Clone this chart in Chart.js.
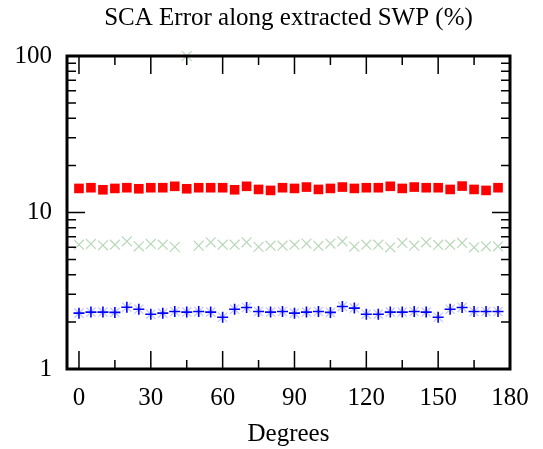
<!DOCTYPE html>
<html>
<head>
<meta charset="utf-8">
<script src="https://cdn.jsdelivr.net/npm/chart.js@4/dist/chart.umd.min.js"></script>
<style>
html,body{margin:0;padding:0;background:#fff;}
#wrap{width:543px;height:449px;}
</style>
</head>
<body>
<div id="wrap"><canvas id="c" width="543" height="449"></canvas></div>
<script>
const degrees = [0,5,10,15,20,25,30,35,40,45,50,55,60,65,70,75,80,85,90,95,100,105,110,115,120,125,130,135,140,145,150,155,160,165,170,175];
const redSquares = [14.25,14.4,13.97,14.25,14.4,14.18,14.4,14.4,14.7,14.18,14.4,14.4,14.4,13.97,14.7,14.04,13.84,14.4,14.25,14.54,14.04,14.25,14.54,14.25,14.4,14.4,14.7,14.25,14.54,14.4,14.4,14.04,14.75,14.04,13.84,14.4];
const greenCross = [6.23,6.30,6.17,6.23,6.55,6.08,6.30,6.23,6.03,100,6.14,6.45,6.23,6.23,6.45,6.03,6.14,6.14,6.23,6.33,6.11,6.33,6.55,6.06,6.23,6.23,5.99,6.39,6.14,6.45,6.20,6.23,6.39,5.99,6.08,6.08];
const bluePlus = [2.275,2.31,2.31,2.30,2.48,2.41,2.24,2.275,2.33,2.31,2.33,2.31,2.14,2.41,2.47,2.33,2.31,2.33,2.275,2.31,2.33,2.30,2.51,2.45,2.24,2.24,2.31,2.31,2.33,2.31,2.14,2.41,2.47,2.33,2.33,2.33];
const xTicks = [0,30,60,90,120,150,180];
const xMinorTicks = [15,45,75,105,135,165];
const yTicks = [1,10,100];
const yTickLabels = ['1','10','100'];

function pts(vals){ return degrees.map((d,i)=>({x:d,y:vals[i]})); }

const serif = "'Liberation Serif','DejaVu Serif','Times New Roman',serif";

const framePlugin = {
  id:'frame',
  afterDatasetsDraw(chart){
    const {ctx, chartArea:a, scales} = chart;
    const xs = scales.x, ys = scales.y;
    ctx.save();
    ctx.strokeStyle = '#000';
    ctx.lineWidth = 1.5;
    ctx.beginPath();
    const majL = 18, minL = 9;
    xTicks.forEach(v=>{
      const px = xs.getPixelForValue(v);
      ctx.moveTo(px,a.bottom); ctx.lineTo(px,a.bottom-majL);
      ctx.moveTo(px,a.top); ctx.lineTo(px,a.top+majL);
    });
    xMinorTicks.forEach(v=>{
      const px = xs.getPixelForValue(v);
      ctx.moveTo(px,a.bottom); ctx.lineTo(px,a.bottom-minL);
      ctx.moveTo(px,a.top); ctx.lineTo(px,a.top+minL);
    });
    [1,10,100].forEach(d=>{
      const py = ys.getPixelForValue(d);
      ctx.moveTo(a.left,py); ctx.lineTo(a.left+majL,py);
      ctx.moveTo(a.right,py); ctx.lineTo(a.right-majL,py);
      if(d<100){
        for(let k=2;k<=9;k++){
          const pm = ys.getPixelForValue(d*k);
          ctx.moveTo(a.left,pm); ctx.lineTo(a.left+minL,pm);
          ctx.moveTo(a.right,pm); ctx.lineTo(a.right-minL,pm);
        }
      }
    });
    ctx.stroke();
    ctx.lineWidth = 3;
    ctx.strokeRect(a.left,a.top,a.right-a.left,a.bottom-a.top);
    ctx.restore();
  }
};

new Chart(document.getElementById('c'),{
  type:'scatter',
  data:{datasets:[
    {label:'red',data:pts(redSquares),pointStyle:'rect',radius:6.8,backgroundColor:'#ff0000',borderColor:'#ff0000',borderWidth:0},
    {label:'blue',data:pts(bluePlus),pointStyle:'cross',radius:5.5,borderColor:'#0000ff',borderWidth:1.6},
    {label:'blueX',data:pts(bluePlus),pointStyle:'crossRot',radius:6.5,borderColor:'rgba(190,190,255,0.9)',borderWidth:1.2},
    {label:'green',data:pts(greenCross),pointStyle:'crossRot',radius:7,borderColor:'#b8d8b8',borderWidth:1.2,clip:false}
  ]},
  options:{
    responsive:false,
    animation:false,
    layout:{padding:{left:0,right:33,top:0,bottom:0}},
    plugins:{
      legend:{display:false},
      tooltip:{enabled:false},
      title:{display:true,fullSize:false,text:'SCA Error along extracted SWP (%)',color:'#000',
        font:{family:serif,size:25,weight:'normal'},padding:{top:3.3,bottom:22.7}}
    },
    scales:{
      x:{type:'linear',min:-5,max:180,
        grid:{display:false,drawTicks:false},border:{display:false},
        afterBuildTicks(s){ s.ticks = xTicks.map(v=>({value:v})); },
        afterFit(s){ s.height = 80; },
        ticks:{color:'#000',font:{family:serif,size:25},padding:14,maxRotation:0,autoSkip:false},
        title:{display:true,text:'Degrees',color:'#000',font:{family:serif,size:25},padding:{top:0,bottom:0}}
      },
      y:{type:'logarithmic',min:1,max:100,
        grid:{display:false,drawTicks:false},border:{display:false},
        afterBuildTicks(s){ s.ticks = yTicks.map(v=>({value:v})); },
        afterFit(s){ s.width = 67; },
        ticks:{color:'#000',font:{family:serif,size:25},padding:15,autoSkip:false,
          callback(v){ const i = yTicks.indexOf(v); return i>=0 ? yTickLabels[i] : ''; }}
      }
    }
  },
  plugins:[framePlugin]
});
</script>
</body>
</html>
